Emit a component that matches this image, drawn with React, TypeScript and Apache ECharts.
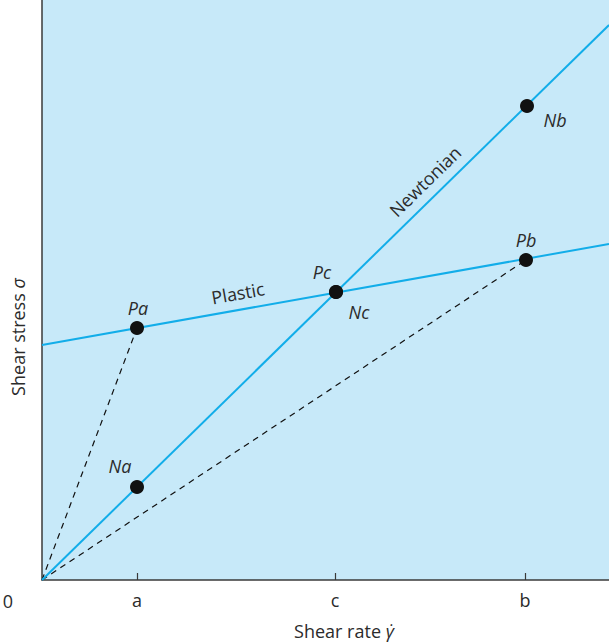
import React, { useEffect, useRef } from "react";
import * as echarts from "echarts";

// Axis ticks (shear-rate positions) and labels
const xTickValues = [95, 293, 483];
const xTickLabels = ["a", "c", "b"];

// Flow curves (shear rate, shear stress)
const newtonianLine = [
  [0, 0],
  [567, 555],
];
const plasticLine = [
  [0, 235],
  [567, 336],
];
// Dashed secant lines from origin
const secantA = [
  [0, 0],
  [95, 252],
];
const secantB = [
  [0, 0],
  [484, 320],
];

// Marked points
const pointNames = ["Pa", "Na", "Pc", "Nc", "Nb", "Pb"];
const pointX = [95, 95, 294, 294, 485, 484];
const pointY = [252, 93, 288, 288, 474, 320];

// Line name labels anchored on the lines
const lineLabelNames = ["Plastic", "Newtonian"];
const lineLabelX = [198, 395];
const lineLabelY = [270.2, 386.7];

const X_MAX = 567;
const Y_MAX = 580;

const FONT = "Open Sans";
const TEXT = "#2b2b2b";
const CYAN = "#12ade9";

export default function App() {
  const ref = useRef<HTMLDivElement>(null);
  useEffect(() => {
    document.body.style.margin = "0";
    if (!ref.current) return;
    const chart = echarts.init(ref.current, undefined, { renderer: "svg" });

    const labelOffsets: Record<string, number[]> = {
      Pa: [1, -20],
      Na: [-17, -21],
      Pc: [-14, -20],
      Nc: [23, 20],
      Nb: [28, 14],
      Pb: [0, -20],
    };
    const lineLabelOffsets: Record<string, number[]> = {
      Plastic: [1, -17],
      Newtonian: [0, -17],
    };
    const lineLabelRot: Record<string, number> = {
      Plastic: 10.1,
      Newtonian: 44.4,
    };

    const titleRich = {
      n: { fontFamily: FONT, fontSize: 18, fill: TEXT, color: TEXT },
      g: {
        fontFamily: FONT,
        fontSize: 18,
        fontStyle: "italic",
        fill: TEXT,
        color: TEXT,
      },
    };

    chart.setOption({
      animation: false,
      grid: {
        left: 42,
        right: 0,
        top: 0,
        bottom: 64,
        show: true,
        backgroundColor: "#c7e9f9",
        borderWidth: 0,
      },
      xAxis: {
        type: "value",
        min: 0,
        max: X_MAX,
        splitLine: { show: false },
        axisLine: { show: true, lineStyle: { color: "#3a3a3a", width: 1.5 } },
        axisTick: {
          show: true,
          inside: true,
          length: 7,
          customValues: xTickValues,
          lineStyle: { color: "#3a3a3a", width: 1.2 },
        },
        axisLabel: {
          show: true,
          customValues: xTickValues,
          margin: 11,
          fontFamily: FONT,
          fontSize: 18,
          color: TEXT,
          formatter: (v: number) => {
            const i = xTickValues.indexOf(v);
            return i >= 0 ? xTickLabels[i] : "";
          },
        },
      },
      yAxis: {
        type: "value",
        min: 0,
        max: Y_MAX,
        splitLine: { show: false },
        axisLine: { show: true, lineStyle: { color: "#3a3a3a", width: 1.5 } },
        axisTick: { show: false },
        axisLabel: { show: false },
      },
      graphic: [
        {
          type: "text",
          x: 8,
          y: 601,
          style: {
            text: "0",
            fontFamily: FONT,
            fontSize: 18,
            fill: TEXT,
            align: "center",
            verticalAlign: "middle",
          },
        },
        {
          type: "text",
          x: 344,
          y: 631,
          style: {
            text: "{n|Shear rate }{g|γ̇}",
            align: "center",
            verticalAlign: "middle",
            rich: titleRich,
          },
        },
        {
          type: "text",
          x: 18,
          y: 337,
          rotation: Math.PI / 2,
          style: {
            text: "{n|Shear stress }{g|σ}",
            align: "center",
            verticalAlign: "middle",
            rich: titleRich,
          },
        },
      ],
      series: [
        {
          type: "line",
          name: "secantA",
          data: secantA,
          symbol: "none",
          lineStyle: { color: "#111", width: 1.2, type: [6, 5] },
          z: 2,
        },
        {
          type: "line",
          name: "secantB",
          data: secantB,
          symbol: "none",
          lineStyle: { color: "#111", width: 1.2, type: [6, 5] },
          z: 2,
        },
        {
          type: "line",
          name: "Newtonian",
          data: newtonianLine,
          symbol: "none",
          lineStyle: { color: CYAN, width: 2 },
          z: 3,
        },
        {
          type: "line",
          name: "Plastic",
          data: plasticLine,
          symbol: "none",
          lineStyle: { color: CYAN, width: 2 },
          z: 3,
        },
        {
          type: "scatter",
          name: "points",
          symbol: "circle",
          symbolSize: 14,
          itemStyle: { color: "#111", opacity: 1 },
          z: 5,
          data: pointNames.map((n, i) => ({
            name: n,
            value: [pointX[i], pointY[i]],
            label: {
              show: true,
              position: "inside",
              offset: labelOffsets[n],
              formatter: n,
              fontFamily: FONT,
              fontStyle: "italic",
              fontSize: 18,
              color: TEXT,
              textBorderWidth: 0,
            },
          })),
        },
        {
          type: "scatter",
          name: "lineLabels",
          symbol: "circle",
          symbolSize: 2,
          itemStyle: { color: "rgba(0,0,0,0)" },
          z: 4,
          data: lineLabelNames.map((n, i) => ({
            name: n,
            value: [lineLabelX[i], lineLabelY[i]],
            label: {
              show: true,
              position: "inside",
              offset: lineLabelOffsets[n],
              rotate: lineLabelRot[n],
              formatter: n,
              fontFamily: FONT,
              fontSize: 18,
              color: TEXT,
              opacity: 1,
              textBorderWidth: 0,
            },
          })),
        },
      ],
    });
    return () => chart.dispose();
  }, []);
  return <div ref={ref} style={{ width: 609, height: 644 }} />;
}
